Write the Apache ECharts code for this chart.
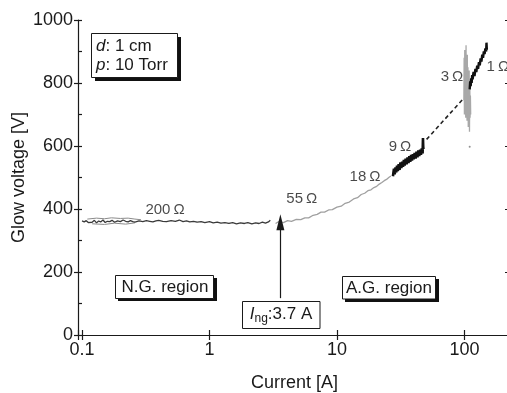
<!DOCTYPE html>
<html><head><meta charset="utf-8">
<script src="https://cdn.jsdelivr.net/npm/echarts@6/dist/echarts.min.js"></script>
<style>html,body{margin:0;padding:0;background:#fff}#c{width:507px;height:393px}</style>
</head><body><div id="c"></div>
<script>
// ---- data ----
const ngCurrent = [0.1,0.104,0.108,0.112,0.116,0.12,0.125,0.13,0.135,0.14,0.146,0.152,0.158,0.165,0.172,0.18,0.19,0.2,0.21,0.22,0.23,0.24,0.25,0.26,0.28,0.3,0.32,0.34,0.36,0.38,0.4,0.43,0.46,0.5,0.54,0.58,0.62,0.66,0.7,0.75,0.8,0.86,0.92,1.0,1.07,1.15,1.23,1.32,1.42,1.52,1.63,1.75,1.88,2.0,2.15,2.3,2.45,2.6,2.75,2.9,3.0];
const ngVoltage = [362,359,363,357,361,358,364,356,362,359,365,357,361,360,364,358,362,360,365,361,359,363,360,358,362,360,363,361,359,362,364,361,360,363,361,365,360,362,359,361,358,360,357,360,356,358,355,357,354,357,353,356,354,357,353,356,354,358,355,359,364];
const ngUpperCurrent = [0.11,0.13,0.15,0.17,0.2,0.23,0.26,0.29];
const ngUpperVoltage = [368,371,369,372,370,371,368,366];
const ngLowerCurrent = [0.12,0.15,0.18,0.22,0.26];
const ngLowerVoltage = [353,351,355,352,356];
const agCurrent = [3.3,3.5,3.8,4.1,4.4,4.8,5.2,5.6,6.0,6.5,7.0,7.5,8.0,8.6,9.2,10,10.8,11.6,12.5,13.5,14.5,15.5,16.5,17.5,18.5,19.5,20.5,21.5,22.5,23.5,24.5,25.5,26.5];
const agVoltage = [354,360,357,363,361,367,366,372,372,380,383,390,390,397,398,406,409,418,422,432,436,446,450,458,461,468,472,479,484,490,494,500,505];
const nineCurrent = [27.5,28,28.4,28.8,29.2,29.6,30,30.5,31,31.5,32,32.5,33,33.5,34,34.6,35.2,35.8,36.4,37,37.6,38.2,38.8,39.4,40,40.7,41.4,42.1,42.8,43.5,44.2,44.9,45.6,46.3,47,47.3,47.5,47.7];
const nineVoltage = [504,528,510,532,516,538,520,542,524,548,530,550,534,556,538,560,542,564,546,568,550,572,554,574,558,578,560,582,564,586,568,588,572,592,576,625,600,590];
const dashCurrent = [50.5,98];
const dashVoltage = [621,750];
const threeCurrent = [99,99.5,100,100.6,101.2,101.8,102.4,103,103.6,104.2,104.8,105.4,106,106.6,107.2,107.8,108.4,109,109.6,110.2,110.8,111.4,112];
const threeVoltage = [745,880,700,905,720,870,690,920,740,860,680,890,720,850,660,830,700,840,645,800,690,760,700];
const oneCurrent = [110,111,112,113,114,115,116,118,120,122,124,126,128,130,132,134,136,138,140,142,144,146,148,149,150];
const oneVoltage = [780,805,790,815,800,825,812,835,822,845,835,855,845,866,856,878,868,890,880,900,892,910,900,928,905];
const strayCurrent = [110];
const strayVoltage = [598];
const labelCurrent = [0.448,5.3,16.6,31.2,79.8,183];
const labelVoltage = [397,432,502,597,819,852];
const labelText = ['200\u2009Ω','55\u2009Ω','18\u2009Ω','9\u2009Ω','3\u2009Ω','1\u2009Ω'];
const ingCurrent = 3.6;
const arrowVoltage = [117,358];
const xTickLabels = ['0.1','1','10','100'];
const yTickLabels = ['0','200','400','600','800','1000'];

const pairs = (xs, ys) => xs.map((x, i) => [x, ys[i]]);
const FONT = 'Liberation Sans, Arial, sans-serif';
const INK = '#1a1a1a';

const chart = echarts.init(document.getElementById('c'));
const xCommon = {
  type: 'log', logBase: 10, min: 0.093, max: 232,
  splitLine: {show: false}, minorTick: {show: false}, minorSplitLine: {show: false},
  axisLine: {show: true, lineStyle: {color: INK, width: 1.2}},
  axisTick: {show: true, inside: true, length: 5, lineStyle: {color: INK, width: 1.2}}
};
const lineBase = {type: 'line', showSymbol: false, symbol: 'none', animation: false, xAxisIndex: 0, yAxisIndex: 0};

chart.setOption({
  animation: false,
  grid: {left: 78, top: 20, right: -4, bottom: 58, outerBoundsMode: 'none', containLabel: false},
  xAxis: [
    Object.assign({}, xCommon, {
      position: 'bottom',
      name: 'Current [A]', nameLocation: 'middle', nameGap: 39, nameMoveOverlap: false,
      nameTextStyle: {fontFamily: FONT, fontSize: 18, color: INK},
      axisLabel: {
        fontFamily: FONT, fontSize: 18, color: INK, margin: 6,
        formatter: v => {
          const l = Math.log10(v);
          if (Math.abs(l - Math.round(l)) > 0.01) return '';
          const idx = Math.round(l) + 1;
          return xTickLabels[idx] || '';
        }
      }
    }),
    Object.assign({}, xCommon, {position: 'top', axisLabel: {show: false}})
  ],
  yAxis: [
    {
      type: 'value', min: 0, max: 1000, interval: 200, position: 'left',
      name: 'Glow voltage [V]', nameLocation: 'middle', nameGap: 50, nameMoveOverlap: false,
      nameTextStyle: {fontFamily: FONT, fontSize: 18, color: INK},
      splitLine: {show: false},
      axisLine: {show: true, lineStyle: {color: INK, width: 1.2}},
      axisTick: {show: true, inside: false, length: 4, lineStyle: {color: INK, width: 1.2}},
      axisLabel: {fontFamily: FONT, fontSize: 18, color: INK, margin: 5,
        formatter: v => yTickLabels[Math.round(v / 200)] || ''}
    },
    {
      type: 'value', min: 0, max: 1000, interval: 100, position: 'left',
      splitLine: {show: false}, axisLabel: {show: false},
      axisLine: {show: false},
      axisTick: {show: true, inside: true, length: 4, lineStyle: {color: INK, width: 1.2}}
    },
    {
      type: 'value', min: 0, max: 1000, interval: 200, position: 'right',
      splitLine: {show: false}, axisLabel: {show: false},
      axisLine: {show: true, lineStyle: {color: INK, width: 1.2}},
      axisTick: {show: true, inside: true, length: 6, lineStyle: {color: INK, width: 1.2}}
    }
  ],
  series: [
    Object.assign({}, lineBase, {data: pairs(ngUpperCurrent, ngUpperVoltage), lineStyle: {color: '#8a8a8a', width: 1}}),
    Object.assign({}, lineBase, {data: pairs(ngLowerCurrent, ngLowerVoltage), lineStyle: {color: '#8a8a8a', width: 1}}),
    Object.assign({}, lineBase, {data: pairs(ngCurrent, ngVoltage), lineStyle: {color: '#3a3a3a', width: 1.3}}),
    Object.assign({}, lineBase, {data: pairs(agCurrent, agVoltage), lineStyle: {color: '#a0a0a0', width: 1.3}}),
    Object.assign({}, lineBase, {data: pairs(nineCurrent, nineVoltage), lineStyle: {color: '#111', width: 2.6}}),
    Object.assign({}, lineBase, {data: pairs(dashCurrent, dashVoltage), lineStyle: {color: '#222', width: 1.6, type: [4, 3]}}),
    Object.assign({}, lineBase, {data: pairs(threeCurrent, threeVoltage), lineStyle: {color: '#a8a8a8', width: 1.3}}),
    Object.assign({}, lineBase, {data: pairs(oneCurrent, oneVoltage), lineStyle: {color: '#111', width: 2.4}}),
    {type: 'scatter', data: pairs(strayCurrent, strayVoltage), symbolSize: 2, itemStyle: {color: '#777'}, animation: false},
    {
      type: 'scatter', symbolSize: 0, animation: false, silent: true,
      data: labelCurrent.map((x, i) => ({value: [x, labelVoltage[i]], name: labelText[i]})),
      label: {show: true, position: 'inside', formatter: p => p.name, fontFamily: FONT, fontSize: 15, color: INK}
    },
    {
      type: 'line', data: [], animation: false,
      markLine: {
        silent: true, animation: false, symbol: ['none', 'triangle'], symbolSize: [8, 16],
        label: {show: false},
        lineStyle: {color: INK, width: 1.2, type: 'solid'},
        data: [[{coord: [ingCurrent, arrowVoltage[0]]}, {coord: [ingCurrent, arrowVoltage[1]]}]]
      }
    }
  ],
  graphic: [
    // info box
    {type: 'rect', z: 100, shape: {x: 95, y: 37, width: 86, height: 44}, style: {fill: '#111'}},
    {type: 'rect', z: 101, shape: {x: 91.5, y: 33.5, width: 86, height: 44}, style: {fill: '#fff', stroke: INK, lineWidth: 1}},
    {type: 'text', z: 102, x: 96, y: 46.5, style: {text: '{i|d}: 1 cm', verticalAlign: 'middle', font: '17px ' + FONT, fill: INK,
      rich: {i: {fontStyle: 'italic', fontSize: 17, fontFamily: FONT, fill: INK}}}},
    {type: 'text', z: 102, x: 96, y: 65, style: {text: '{i|p}: 10 Torr', verticalAlign: 'middle', font: '17px ' + FONT, fill: INK,
      rich: {i: {fontStyle: 'italic', fontSize: 17, fontFamily: FONT, fill: INK}}}},
    // N.G. region
    {type: 'rect', z: 100, shape: {x: 118, y: 278, width: 99, height: 23}, style: {fill: '#111'}},
    {type: 'rect', z: 101, shape: {x: 115.5, y: 275.5, width: 98, height: 23}, style: {fill: '#fff', stroke: INK, lineWidth: 1}},
    {type: 'text', z: 102, x: 165, y: 287.5, style: {text: 'N.G. region', align: 'center', verticalAlign: 'middle', font: '17px ' + FONT, fill: INK}},
    // A.G. region
    {type: 'rect', z: 100, shape: {x: 345, y: 279, width: 94, height: 23}, style: {fill: '#111'}},
    {type: 'rect', z: 101, shape: {x: 342.5, y: 276.5, width: 93, height: 22.5}, style: {fill: '#fff', stroke: INK, lineWidth: 1}},
    {type: 'text', z: 102, x: 389, y: 288, style: {text: 'A.G. region', align: 'center', verticalAlign: 'middle', font: '17px ' + FONT, fill: INK}},
    // I_ng box
    {type: 'rect', z: 101, shape: {x: 242.5, y: 301.5, width: 77.5, height: 27}, style: {fill: '#fff', stroke: INK, lineWidth: 1}},
    {type: 'text', z: 102, x: 281, y: 314, style: {text: '{i|I}{s|ng}{n|:3.7 A}', align: 'center', verticalAlign: 'middle', font: '17px ' + FONT, fill: INK,
      rich: {
        i: {fontStyle: 'italic', fontSize: 17, fontFamily: FONT, fill: INK, lineHeight: 22},
        s: {fontSize: 12, fontFamily: FONT, fill: INK, verticalAlign: 'bottom', lineHeight: 12},
        n: {fontSize: 17, fontFamily: FONT, fill: INK, lineHeight: 22}
      }}}
  ]
});
</script></body></html>
